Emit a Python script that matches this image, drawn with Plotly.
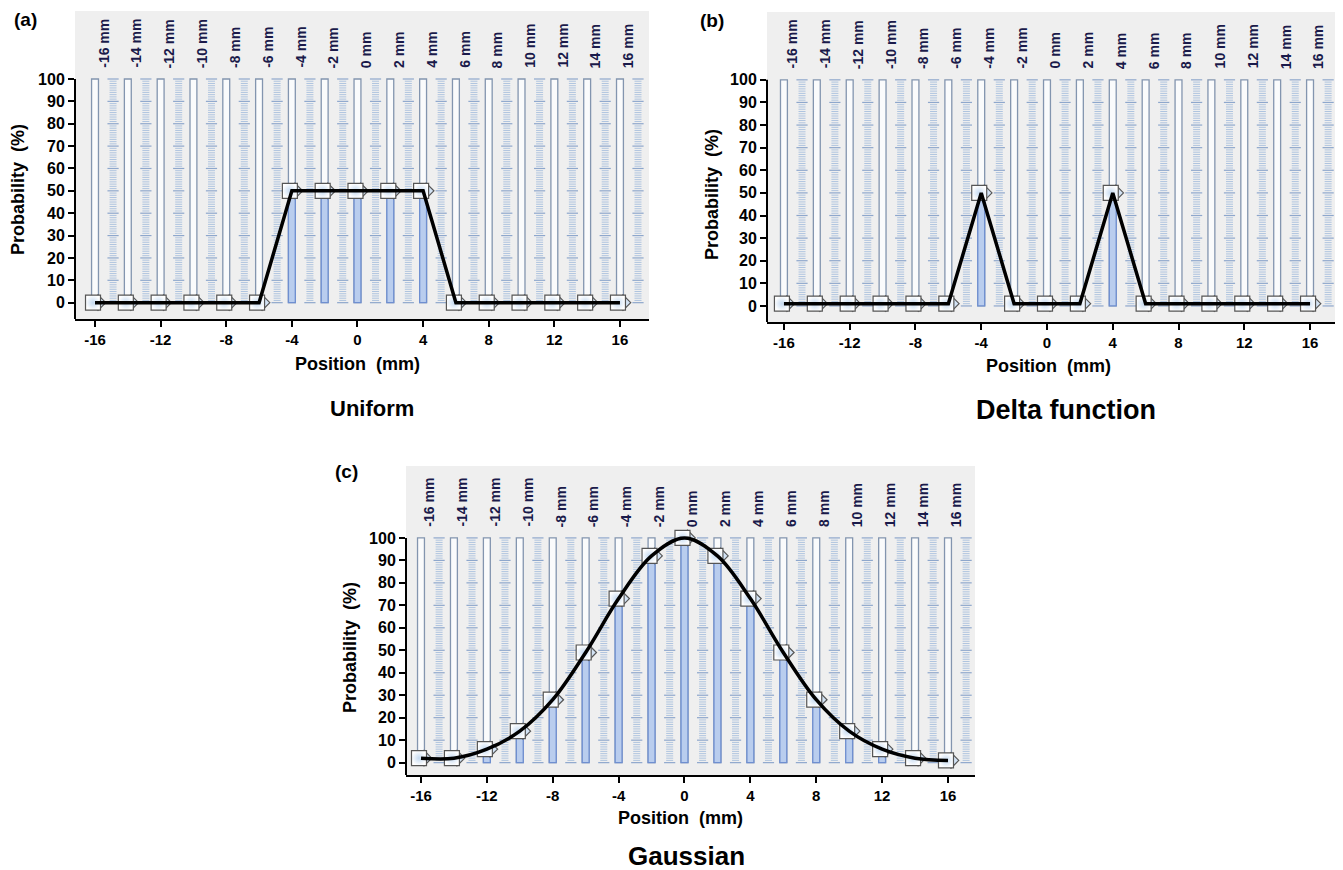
import plotly.graph_objects as go

# ---------------- data ----------------
positions = [-16, -14, -12, -10, -8, -6, -4, -2, 0, 2, 4, 6, 8, 10, 12, 14, 16]
top_labels = ["-16 mm", "-14 mm", "-12 mm", "-10 mm", "-8 mm", "-6 mm", "-4 mm", "-2 mm",
              "0 mm", "2 mm", "4 mm", "6 mm", "8 mm", "10 mm", "12 mm", "14 mm", "16 mm"]
uniform_vals = [0, 0, 0, 0, 0, 0, 50, 50, 50, 50, 50, 0, 0, 0, 0, 0, 0]
delta_vals = [1, 1, 1, 1, 1, 1, 50, 1, 1, 1, 50, 1, 1, 1, 1, 1, 1]
gauss_vals = [2, 2, 6, 14, 28, 49, 73, 92, 100, 92, 73, 49, 28, 14, 6, 2, 1]
x_ticks = [-16, -12, -8, -4, 0, 4, 8, 12, 16]
y_ticks = [0, 10, 20, 30, 40, 50, 60, 70, 80, 90, 100]
slider_max = 100
panel_titles = ["Uniform", "Delta function", "Gaussian"]
panel_tags = ["(a)", "(b)", "(c)"]

# page body has an 8px margin: the figure is offset by it
OFF = 8
W, H = 1343 - OFF, 870 - OFF
FONT = "Liberation Sans, Arial, sans-serif"


def px_x(p):
    return (p - OFF) / W


def py_y(p):
    return 1 - (p - OFF) / H


# panel geometry in page pixels: (left, right, top, bottom), x range, y range
panels = [
    dict(box=(75, 649, 11, 319), xr=[-17.22, 17.77], yr=[-7.3, 130.4], vals=uniform_vals, shape="linear"),
    dict(box=(767, 1338, 12, 322), xr=[-17.03, 17.7], yr=[-7.1, 130.0], vals=delta_vals, shape="linear"),
    dict(box=(406, 975, 466, 775), xr=[-16.91, 17.64], yr=[-5.5, 132.0], vals=gauss_vals, shape="spline"),
]

fig = go.Figure()
annotations = []
shapes = []

for i, pn in enumerate(panels):
    sfx = "" if i == 0 else str(i + 1)
    xa, ya = "x" + sfx, "y" + sfx
    vals = pn["vals"]
    L, R, T, B = pn["box"]
    upx = (pn["xr"][1] - pn["xr"][0]) / (R - L)  # data units per pixel

    # slider tracks
    fig.add_trace(go.Bar(x=positions, y=[slider_max] * len(positions), base=0, width=0.42,
                         marker=dict(color="#fafbfc", line=dict(color="#8395af", width=1.3)),
                         xaxis=xa, yaxis=ya, hoverinfo="skip"))
    # slider fill (value)
    fig.add_trace(go.Bar(x=positions, y=vals, base=0, width=0.42,
                         marker=dict(color="#b9cdee", line=dict(color="#6f8fd0", width=1.3)),
                         xaxis=xa, yaxis=ya, hoverinfo="skip"))

    # scale tick columns
    mx, my, Mx, My = [], [], [], []
    for p in positions:
        for k in range(0, slider_max + 1):
            if k % 10 == 0:
                Mx.append(p + 1.1)
                My.append(k)
            else:
                mx.append(p + 1.1)
                my.append(k)
    fig.add_trace(go.Scatter(x=mx, y=my, mode="markers", xaxis=xa, yaxis=ya, hoverinfo="skip",
                             marker=dict(symbol="line-ew", size=5, line=dict(color="#afc4df", width=1))))
    fig.add_trace(go.Scatter(x=Mx, y=My, mode="markers", xaxis=xa, yaxis=ya, hoverinfo="skip",
                             marker=dict(symbol="line-ew", size=8, line=dict(color="#8ea7cc", width=1.2))))

    # thumbs: pointed tip (diamond) + body (square)
    fig.add_trace(go.Scatter(x=[p + 3 * upx for p in positions], y=vals, mode="markers",
                             xaxis=xa, yaxis=ya, hoverinfo="skip",
                             marker=dict(symbol="diamond", size=12, color="#d3e3f5",
                                         line=dict(color="#555555", width=1.2))))
    fig.add_trace(go.Scatter(x=[p - 2 * upx for p in positions], y=vals, mode="markers",
                             xaxis=xa, yaxis=ya, hoverinfo="skip",
                             marker=dict(symbol="square", size=15, color="#ffffff",
                                         gradient=dict(type="radial", color="#c4d9f0"),
                                         line=dict(color="#555555", width=1.2))))
    # curve
    fig.add_trace(go.Scatter(x=positions, y=vals, mode="lines", xaxis=xa, yaxis=ya, hoverinfo="skip",
                             line=dict(color="black", width=3.5, shape=pn["shape"], smoothing=1.0)))

    fig.layout["xaxis" + sfx] = dict(
        domain=[px_x(L), px_x(R)], range=pn["xr"], anchor=ya,
        showgrid=False, zeroline=False, showline=True, linecolor="black", linewidth=2,
        ticks="outside", ticklen=6, tickwidth=2, tickcolor="black",
        tickvals=x_ticks, ticktext=[str(v) for v in x_ticks],
        tickfont=dict(family=FONT, size=15, color="black", weight="bold"), fixedrange=True)
    fig.layout["yaxis" + sfx] = dict(
        domain=[py_y(B), py_y(T)], range=pn["yr"], anchor=xa,
        showgrid=False, zeroline=False, showline=False,
        ticks="outside", ticklen=6, tickwidth=2, tickcolor="black",
        tickvals=y_ticks, ticktext=[str(v) for v in y_ticks],
        tickfont=dict(family=FONT, size=16, color="black", weight="bold"), fixedrange=True)

    # y axis line only up to 100
    shapes.append(dict(type="line", xref=xa + " domain", yref=ya, x0=0, x1=0,
                       y0=pn["yr"][0], y1=slider_max, line=dict(color="black", width=2)))

    # top labels
    for p, t in zip(positions, top_labels):
        annotations.append(dict(x=p + 0.5, y=104, xref=xa, yref=ya, text=t, textangle=-90,
                                showarrow=False, xanchor="center", yanchor="bottom",
                                font=dict(family=FONT, size=14, color="#1a1a4a", weight="bold")))

# axis titles, panel titles, tags (page pixel positions)
texts = [
    # (text, x_px, y_px, size, angle)
    ("Position  (mm)", 357, 364, 18, 0),
    ("Position  (mm)", 1048, 366, 18, 0),
    ("Position  (mm)", 680, 818, 18, 0),
    ("Probability  (%)", 18, 190, 18, -90),
    ("Probability  (%)", 712, 195, 18, -90),
    ("Probability  (%)", 350, 648, 18, -90),
    (panel_titles[0], 372, 408, 22, 0),
    (panel_titles[1], 1066, 410, 27, 0),
    (panel_titles[2], 686, 856, 26, 0),
    (panel_tags[0], 25, 20, 19, 0),
    (panel_tags[1], 712, 21, 19, 0),
    (panel_tags[2], 346, 471, 19, 0),
]
for t, xp, yp, s, ang in texts:
    annotations.append(dict(x=px_x(xp), y=py_y(yp), xref="paper", yref="paper", text=t,
                            textangle=ang, showarrow=False, xanchor="center", yanchor="middle",
                            font=dict(family=FONT, size=s, color="black", weight="bold")))

fig.update_layout(
    width=W, height=H, margin=dict(l=0, r=0, t=0, b=0),
    paper_bgcolor="white", plot_bgcolor="#efefef",
    barmode="overlay", showlegend=False, hovermode=False,
    annotations=annotations, shapes=shapes,
)

fig.write_html("out.html")
